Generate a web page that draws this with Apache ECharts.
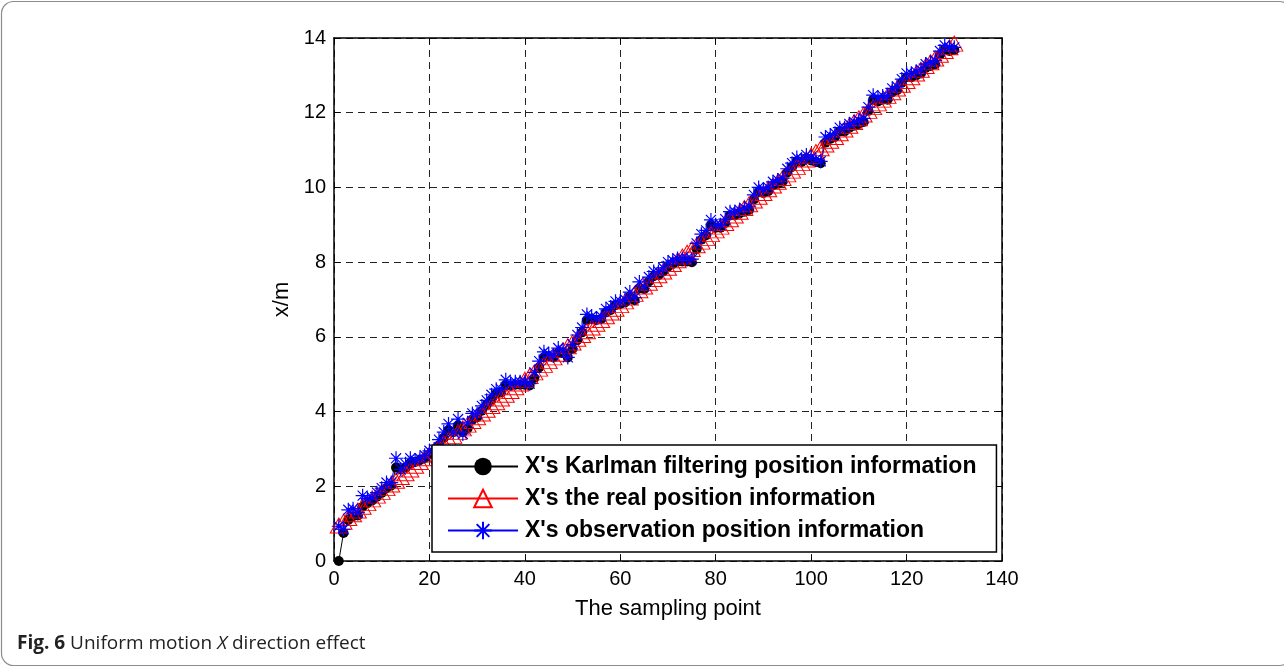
<!DOCTYPE html>
<html>
<head>
<meta charset="utf-8">
<script src="https://cdn.jsdelivr.net/npm/echarts@6/dist/echarts.min.js"></script>
<style>
html,body{margin:0;padding:0;background:#fff;}
#chart{width:1284px;height:668px;}
</style>
</head>
<body>
<div id="chart"></div>
<script>
// ---- data ----
var samplePoints = [1,2,3,4,5,6,7,8,9,10,11,12,13,14,15,16,17,18,19,20,21,22,23,24,25,26,27,28,29,30,31,32,33,34,35,36,37,38,39,40,41,42,43,44,45,46,47,48,49,50,51,52,53,54,55,56,57,58,59,60,61,62,63,64,65,66,67,68,69,70,71,72,73,74,75,76,77,78,79,80,81,82,83,84,85,86,87,88,89,90,91,92,93,94,95,96,97,98,99,100,101,102,103,104,105,106,107,108,109,110,111,112,113,114,115,116,117,118,119,120,121,122,123,124,125,126,127,128,129,130];

var kalmanX = [0.00,0.75,1.10,1.20,1.22,1.45,1.55,1.62,1.72,1.82,1.95,2.02,2.50,2.45,2.50,2.62,2.65,2.70,2.75,2.85,2.92,3.10,3.30,3.50,3.45,3.62,3.45,3.55,3.78,3.85,4.02,4.18,4.32,4.48,4.52,4.72,4.70,4.72,4.72,4.72,4.70,4.90,5.18,5.45,5.48,5.45,5.58,5.58,5.45,5.68,5.92,6.12,6.45,6.48,6.45,6.48,6.65,6.72,6.85,6.88,6.92,7.08,6.98,7.30,7.28,7.48,7.62,7.65,7.75,7.88,7.95,8.02,8.02,8.02,8.00,8.35,8.60,8.72,9.00,8.92,8.92,9.05,9.25,9.25,9.30,9.35,9.40,9.68,9.88,9.85,9.90,10.05,10.10,10.15,10.40,10.55,10.70,10.68,10.78,10.72,10.68,10.65,11.20,11.30,11.35,11.50,11.50,11.60,11.65,11.70,11.75,12.05,12.35,12.30,12.35,12.35,12.55,12.60,12.80,12.95,12.95,13.00,13.05,13.20,13.25,13.30,13.55,13.70,13.65,13.68];

var realX = [0.95,1.05,1.15,1.25,1.35,1.45,1.55,1.65,1.75,1.85,1.95,2.05,2.15,2.25,2.35,2.45,2.55,2.65,2.75,2.85,2.95,3.05,3.15,3.25,3.35,3.45,3.55,3.65,3.75,3.85,3.95,4.05,4.15,4.25,4.35,4.45,4.55,4.65,4.75,4.85,4.95,5.05,5.15,5.25,5.35,5.45,5.55,5.65,5.75,5.85,5.95,6.05,6.15,6.25,6.35,6.45,6.55,6.65,6.75,6.85,6.95,7.05,7.15,7.25,7.35,7.45,7.55,7.65,7.75,7.85,7.95,8.05,8.15,8.25,8.35,8.45,8.55,8.65,8.75,8.85,8.95,9.05,9.15,9.25,9.35,9.45,9.55,9.65,9.75,9.85,9.95,10.05,10.15,10.25,10.35,10.45,10.55,10.65,10.75,10.85,10.95,11.05,11.15,11.25,11.35,11.45,11.55,11.65,11.75,11.85,11.95,12.05,12.15,12.25,12.35,12.45,12.55,12.65,12.75,12.85,12.95,13.05,13.15,13.25,13.35,13.45,13.55,13.65,13.75,13.85];

var observedX = [0.93,0.85,1.37,1.40,1.30,1.75,1.67,1.70,1.83,1.95,2.10,2.10,2.75,2.45,2.60,2.75,2.70,2.75,2.83,2.95,3.00,3.25,3.45,3.67,3.45,3.80,3.40,3.70,3.95,3.95,4.15,4.30,4.45,4.60,4.60,4.85,4.75,4.80,4.80,4.80,4.75,5.05,5.35,5.60,5.55,5.50,5.70,5.65,5.45,5.80,6.05,6.25,6.60,6.55,6.50,6.55,6.75,6.80,6.95,6.95,7.00,7.20,7.05,7.47,7.35,7.60,7.75,7.75,7.85,8.00,8.05,8.10,8.10,8.10,8.08,8.50,8.75,8.85,9.13,9.00,9.00,9.15,9.35,9.35,9.40,9.45,9.50,9.80,10.00,9.95,10.00,10.15,10.20,10.25,10.50,10.65,10.80,10.75,10.87,10.80,10.75,10.70,11.35,11.40,11.45,11.60,11.60,11.70,11.75,11.80,11.85,12.15,12.47,12.40,12.45,12.45,12.65,12.70,12.90,13.05,13.05,13.10,13.15,13.30,13.35,13.40,13.65,13.80,13.75,13.75];

var xTicks = {min: 0, max: 140, interval: 20};
var yTicks = {min: 0, max: 14, interval: 2};
var legendNames = ["X's Karlman filtering position information", "X's the real position information", "X's observation position information"];
var xName = 'The sampling point';
var yName = 'x/m';

function pairs(xs, ys){ return xs.map(function(x,i){ return [x, ys[i]]; }); }

var FONT = 'Liberation Sans, Arial, Helvetica, sans-serif';
var STAR = 'path://M0,-5L0,5M-5,0L5,0M-3.6,-3.6L3.6,3.6M-3.6,3.6L3.6,-3.6';

var chart = echarts.init(document.getElementById('chart'), null, {renderer: 'canvas'});
var gridLine = {show: true, lineStyle: {color: '#222', type: [7, 5], width: 1}};
var option = {
  animation: false,
  backgroundColor: '#fff',
  grid: {left: 334, right: 282, top: 38, bottom: 107, containLabel: false},
  xAxis: [{
    type: 'value', min: xTicks.min, max: xTicks.max, interval: xTicks.interval,
    name: xName, nameLocation: 'middle', nameGap: 37,
    nameTextStyle: {fontFamily: FONT, fontSize: 22, color: '#000'},
    axisLine: {show: true, onZero: false, lineStyle: {color: '#000', width: 1.5}},
    axisTick: {show: true, inside: true, length: 6, lineStyle: {color: '#000'}},
    axisLabel: {fontFamily: FONT, fontSize: 20, color: '#000', margin: 8},
    splitLine: gridLine
  }, {
    type: 'value', position: 'top', min: xTicks.min, max: xTicks.max, interval: xTicks.interval,
    axisLine: {show: true, onZero: false, lineStyle: {color: '#000', width: 1.5}},
    axisTick: {show: true, inside: true, length: 6, lineStyle: {color: '#000'}},
    axisLabel: {show: false}, splitLine: {show: false}
  }],
  yAxis: [{
    type: 'value', min: yTicks.min, max: yTicks.max, interval: yTicks.interval,
    name: yName, nameLocation: 'middle', nameGap: 38, nameRotate: 90,
    nameTextStyle: {fontFamily: FONT, fontSize: 22, color: '#000'},
    axisLine: {show: true, onZero: false, lineStyle: {color: '#000', width: 1.5}},
    axisTick: {show: true, inside: true, length: 6, lineStyle: {color: '#000'}},
    axisLabel: {fontFamily: FONT, fontSize: 20, color: '#000', margin: 8},
    splitLine: gridLine
  }, {
    type: 'value', position: 'right', min: yTicks.min, max: yTicks.max, interval: yTicks.interval,
    axisLine: {show: true, onZero: false, lineStyle: {color: '#000', width: 1.5}},
    axisTick: {show: true, inside: true, length: 6, lineStyle: {color: '#000'}},
    axisLabel: {show: false}, splitLine: {show: false}
  }],
  legend: {
    orient: 'vertical', left: 432, top: 445,
    padding: [10, 20, 10, 15], itemGap: 9,
    itemWidth: 70, itemHeight: 22,
    backgroundColor: '#fff', borderColor: '#000', borderWidth: 1.5,
    textStyle: {fontFamily: FONT, fontSize: 23, fontWeight: 'bold', color: '#000', padding: [0,0,0,2]},
    data: legendNames
  },
  series: [{
    name: legendNames[0], type: 'line', data: pairs(samplePoints, kalmanX),
    symbol: 'circle', symbolSize: 10,
    itemStyle: {color: '#000'}, lineStyle: {color: '#000', width: 1}
  }, {
    name: legendNames[1], type: 'line', data: pairs(samplePoints, realX),
    symbol: 'triangle', symbolSize: [17, 15],
    itemStyle: {color: 'rgba(255,255,255,0)', borderColor: '#ff0000', borderWidth: 1},
    lineStyle: {color: '#ff0000', width: 1}
  }, {
    name: legendNames[2], type: 'line', data: pairs(samplePoints, observedX),
    symbol: STAR, symbolSize: 14,
    itemStyle: {color: '#0000ff', borderColor: '#0000ff', borderWidth: 1.2},
    lineStyle: {color: '#0000ff', width: 1}
  }],
  graphic: [{
    type: 'rect', silent: true, z: -1,
    shape: {x: 1.5, y: 1.5, width: 1290, height: 664, r: 12},
    style: {fill: 'none', stroke: '#8c8c8c', lineWidth: 1.2}
  }, {
    type: 'text', left: 17, top: 634,
    style: {
      text: '{b|Fig. 6} Uniform motion {i|X} direction effect',
      rich: {
        b: {fontFamily: 'Open Sans, sans-serif', fontSize: 19, fontWeight: 'bold', fill: '#222'},
        i: {fontFamily: 'Open Sans, sans-serif', fontSize: 19, fontStyle: 'italic', fill: '#222'}
      },
      font: '19px Open Sans, sans-serif', fill: '#222'
    }
  }]
};
chart.setOption(option);
</script>
</body>
</html>
